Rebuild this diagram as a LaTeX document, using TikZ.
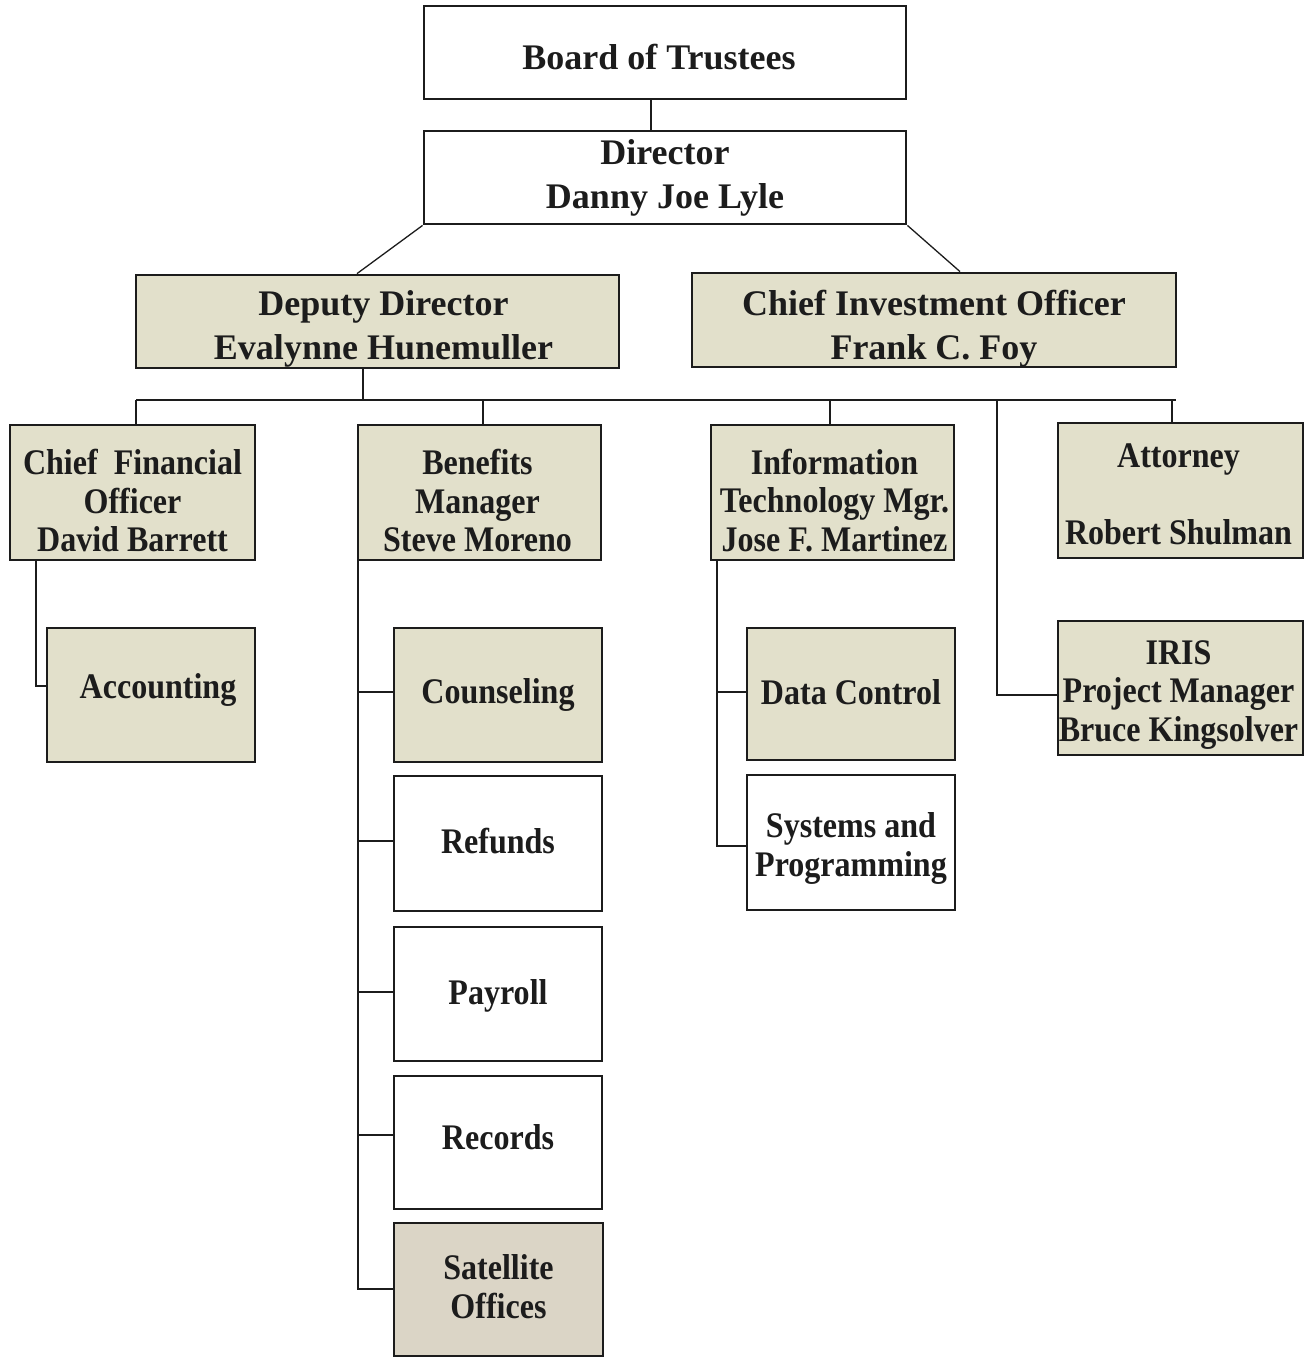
\documentclass[tikz,border=0pt]{standalone}
\usepackage{fontspec}
\setmainfont{Liberation Serif}
\newfontfamily\topf{Liberation Serif}
\newfontfamily\lowf{Liberation Serif}[FakeStretch=0.89]
\definecolor{boxfill}{HTML}{E2E0CB}
\definecolor{satfill}{HTML}{DBD5C6}
\definecolor{ink}{HTML}{1C1C1C}
\begin{document}
\begin{tikzpicture}[x=1pt,y=-1pt,
  box/.style={draw=ink, line width=2.8pt, inner sep=0pt, fill=white},
  tan/.style={fill=boxfill},
  toptxt/.style={align=center, text=ink, inner sep=0pt, font=\topf\bfseries\fontsize{36}{44}\selectfont},
  lowtxt/.style={align=center, text=ink, inner sep=0pt, font=\lowf\bfseries\fontsize{36}{38.5}\selectfont},
  conn/.style={line width=1.3pt, draw=ink}]
\useasboundingbox (0,0) rectangle (1311,1358);

% top level
\node[box, minimum width=482pt, minimum height=93pt,
  label={[toptxt, name=board-t, yshift=-5pt, xshift=-6pt]center:Board of Trustees}] (board) at (665,52.5) {};
\node[box, minimum width=482pt, minimum height=93pt,
  label={[toptxt, name=director-t]center:Director\\Danny Joe Lyle}] (director) at (665,177.5) {};
\node[box, tan, minimum width=483pt, minimum height=93pt,
  label={[toptxt, name=deputy-t, yshift=-7pt, xshift=6pt]center:Deputy Director\\Evalynne Hunemuller}] (deputy) at (377.5,321.5) {};
\node[box, tan, minimum width=484pt, minimum height=94pt,
  label={[toptxt, name=cio-t, yshift=-9pt]center:Chief Investment Officer\\Frank C. Foy}] (cio) at (934,320) {};

% second level
\node[box, tan, minimum width=245pt, minimum height=135pt,
  label={[lowtxt, name=cfo-t, yshift=-8pt]center:Chief\ \ Financial\\Officer\\David Barrett}] (cfo) at (132.5,492.5) {};
\node[box, tan, minimum width=243pt, minimum height=135pt,
  label={[lowtxt, name=benefits-t, yshift=-8pt, xshift=-2pt]center:Benefits\\Manager\\Steve Moreno}] (benefits) at (479.5,492.5) {};
\node[box, tan, minimum width=243pt, minimum height=135pt,
  label={[lowtxt, name=it-t, yshift=-8pt, xshift=2pt]center:Information\\Technology Mgr.\\Jose F. Martinez}] (it) at (832.5,492.5) {};
\node[box, tan, minimum width=245pt, minimum height=135pt,
  label={[lowtxt, name=attorney-t, yshift=-3.5pt, xshift=-2pt]center:Attorney\\\mbox{}\\Robert Shulman}] (attorney) at (1180.5,490.5) {};

% third level
\node[box, tan, minimum width=208pt, minimum height=134pt,
  label={[lowtxt, name=accounting-t, yshift=5pt, xshift=7pt]center:Accounting}] (accounting) at (151,695) {};
\node[box, tan, minimum width=208pt, minimum height=134pt,
  label={[lowtxt, name=counseling-t]center:Counseling}] (counseling) at (498,695) {};
\node[box, minimum width=208pt, minimum height=135pt,
  label={[lowtxt, name=refunds-t, yshift=2pt]center:Refunds}] (refunds) at (498,843.5) {};
\node[box, minimum width=208pt, minimum height=134pt,
  label={[lowtxt, name=payroll-t, yshift=-2pt]center:Payroll}] (payroll) at (498,994) {};
\node[box, minimum width=208pt, minimum height=133pt,
  label={[lowtxt, name=records-t, yshift=5pt]center:Records}] (records) at (498,1142.5) {};
\node[box, fill=satfill, minimum width=209pt, minimum height=133pt,
  label={[lowtxt, name=satellite-t, yshift=3pt]center:Satellite\\Offices}] (satellite) at (498.5,1289.5) {};
\node[box, tan, minimum width=208pt, minimum height=132pt,
  label={[lowtxt, name=datacontrol-t, yshift=2pt]center:Data Control}] (datacontrol) at (851,694) {};
\node[box, minimum width=208pt, minimum height=135pt,
  label={[lowtxt, name=systems-t, yshift=-6pt]center:Systems and\\Programming}] (systems) at (851,842.5) {};
\node[box, tan, minimum width=245pt, minimum height=134pt,
  label={[lowtxt, name=iris-t, yshift=-7pt, xshift=-2pt]center:IRIS\\Project Manager\\Bruce Kingsolver}] (iris) at (1180.5,688) {};

% connectors
\draw[conn] (board.south -| 651,0) -- (director.north -| 651,0);
\draw[conn] (director.south west) -- (deputy.north -| 357,0);
\draw[conn] (director.south east) -- (cio.north -| 960,0);

\coordinate (bus) at (363,400);
\coordinate (busL) at (136,400);
\coordinate (busR) at (1176,400);
\draw[conn] (deputy.south -| bus) -- (bus);
\draw[conn] (busL) -- (busR);
\draw[conn] (busL) -- (cfo.north -| busL);
\draw[conn] (483,400) -- (benefits.north -| 483,0);
\draw[conn] (830,400) -- (it.north -| 830,0);
\draw[conn] (1172,400) -- (attorney.north -| 1172,0);
\coordinate (irisbend) at (997,695);
\draw[conn] (997,400) -- (irisbend) -- (iris.west |- irisbend);

% CFO branch
\coordinate (accbend) at (36,686);
\draw[conn] (cfo.south -| accbend) -- (accbend) -- (accounting.west |- accbend);

% Benefits branch
\coordinate (benend) at (358,1289);
\draw[conn] (benefits.south -| benend) -- (benend) -- (satellite.west |- benend);
\draw[conn] (358,692) -- (counseling.west |- 0,692);
\draw[conn] (358,841) -- (refunds.west |- 0,841);
\draw[conn] (358,992) -- (payroll.west |- 0,992);
\draw[conn] (358,1135) -- (records.west |- 0,1135);

% IT branch
\coordinate (itend) at (717,846);
\draw[conn] (it.south -| itend) -- (itend) -- (systems.west |- itend);
\draw[conn] (717,692) -- (datacontrol.west |- 0,692);
\end{tikzpicture}
\end{document}
